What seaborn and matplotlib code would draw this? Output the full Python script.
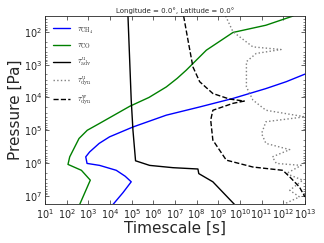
import numpy as np
import pandas as pd
import matplotlib
matplotlib.use("Agg")
import matplotlib.pyplot as plt
import seaborn as sns

# log10 of timescale [s] and pressure [Pa]
ch4_t = [4.14, 4.6, 4.98, 4.7, 4.29, 3.52, 2.94, 2.88, 3.06, 3.5, 3.98, 5.06, 6.6, 8.14, 9.68, 11.2, 12.14, 13.0]
ch4_p = [7.26, 6.9, 6.57, 6.4, 6.22, 6.07, 6.01, 5.81, 5.66, 5.4, 5.2, 4.9, 4.54, 4.29, 4.03, 3.73, 3.52, 3.29]

co_t = [2.6, 3.09, 2.68, 2.06, 2.14, 2.57, 2.95, 3.52, 4.91, 5.8, 6.6, 7.1, 7.52, 8.45, 9.68, 11.2, 12.45]
co_p = [7.26, 6.52, 6.22, 6.04, 5.81, 5.25, 5.0, 4.79, 4.27, 4.0, 3.68, 3.42, 3.17, 2.56, 2.02, 1.8, 1.52]

adv_t = [4.83, 4.98, 5.06, 5.18, 5.83, 6.91, 8.06, 8.1, 8.75, 9.75]
adv_p = [1.52, 4.08, 5.0, 5.93, 6.07, 6.14, 6.18, 6.32, 6.57, 7.26]

dynu_t = [9.34, 9.68, 10.6, 11.9, 10.75, 10.3, 10.3, 10.6, 11.2, 13.0, 11.2, 11.0, 11.2, 12.3,
          11.5, 11.68, 12.83, 12.14, 12.9, 12.3, 12.75, 12.0]
dynu_p = [1.52, 2.0, 2.46, 2.54, 2.66, 2.91, 3.68, 4.08, 4.39, 4.59, 4.74, 5.1, 5.4, 5.59,
          5.81, 6.01, 6.07, 6.32, 6.52, 6.83, 7.03, 7.26]

dynw_t = [7.4, 7.6, 7.83, 8.14, 8.75, 9.52, 10.2, 9.68, 8.75, 8.65, 8.75, 9.37, 10.6, 11.98, 12.3, 12.75, 13.0]
dynw_p = [1.52, 2.25, 3.07, 3.52, 3.88, 4.05, 4.11, 4.18, 4.39, 4.69, 5.3, 5.91, 6.12, 6.22, 6.42, 6.73, 7.03]

sns.set_style("ticks")
plt.rcParams['font.family'] = ['DejaVu Sans']
plt.rcParams['mathtext.fontset'] = 'cm'

fig = plt.figure(figsize=(3.24, 2.43), dpi=100)
ax = fig.add_axes([0.139, 0.16, 0.802, 0.774])

curves = [
    (ch4_t, ch4_p, 'blue', '-', r'$\tau_{\rm CH_4}$'),
    (co_t, co_p, 'green', '-', r'$\tau_{\rm CO}$'),
    (adv_t, adv_p, 'black', '-', r'$\tau^{\rm u}_{\rm adv}$'),
    (dynu_t, dynu_p, 'gray', ':', r'$\tau^{\rm u}_{\rm dyn}$'),
    (dynw_t, dynw_p, 'black', '--', r'$\tau^{\rm w}_{\rm dyn}$'),
]
for t, p, c, ls, lab in curves:
    df = pd.DataFrame({'t': 10 ** np.array(t), 'p': 10 ** np.array(p)})
    sns.lineplot(data=df, x='t', y='p', sort=False, estimator=None, color=c,
                 linestyle=ls, lw=1.0, label=lab, ax=ax)

ax.set_xscale('log')
ax.set_yscale('log')
ax.set_xlim(1e1, 1e13)
ax.set_ylim(10 ** 7.25, 10 ** 1.52)
ax.set_xticks([10.0 ** k for k in range(1, 14)])
ax.set_yticks([10.0 ** k for k in range(2, 8)])
ax.tick_params(which='both', direction='in', top=True, right=True, labelsize=7, pad=2)
ax.tick_params(which='major', length=3, width=0.5)
ax.tick_params(which='minor', length=1.5, width=0.4)
for s in ax.spines.values():
    s.set_linewidth(0.6)

ax.set_xlabel('Timescale [s]', fontsize=11, labelpad=0)
ax.set_ylabel('Pressure [Pa]', fontsize=11, labelpad=1)
ax.set_title('Longitude = 0.0°, Latitude = 0.0°', fontsize=5, pad=2)
ax.legend(loc='upper left', frameon=False, fontsize=6, handlelength=2.0,
          labelspacing=0.6, borderaxespad=0.6)

fig.savefig('out.png', dpi=100)
